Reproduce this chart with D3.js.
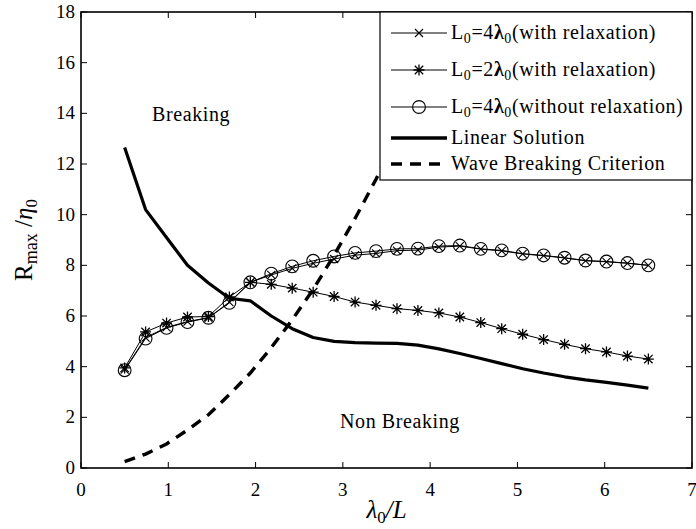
<!DOCTYPE html>
<html><head><meta charset="utf-8">
<script src="https://cdn.jsdelivr.net/npm/d3@7"></script>
<style>body{margin:0;background:#fff}svg{display:block}text{font-family:"Liberation Serif","Times New Roman",serif;fill:#000}</style>
</head><body>
<script>
// ---- data ----
const xGrid = [0.50,0.74,0.98,1.22,1.46,1.70,1.94,2.18,2.42,2.66,2.90,3.14,3.38,3.62,3.86,4.10,4.34,4.58,4.82,5.06,5.30,5.54,5.78,6.02,6.26,6.50];
const relax4 = [3.88,5.15,5.55,5.78,5.93,6.55,7.33,7.62,7.88,8.08,8.25,8.40,8.47,8.58,8.60,8.72,8.76,8.64,8.57,8.45,8.38,8.29,8.18,8.14,8.08,8.00];
const relax2 = [3.95,5.37,5.72,5.96,5.98,6.75,7.33,7.25,7.10,6.94,6.77,6.55,6.42,6.29,6.22,6.12,5.96,5.74,5.50,5.28,5.07,4.88,4.71,4.58,4.42,4.30];
const noRelax4 = [3.86,5.11,5.53,5.76,5.93,6.52,7.33,7.67,7.96,8.18,8.35,8.49,8.56,8.65,8.66,8.76,8.78,8.65,8.59,8.46,8.39,8.30,8.19,8.15,8.09,8.00];
const linearSol = [12.65,10.2,9.1,8.0,7.3,6.7,6.6,6.0,5.5,5.15,5.0,4.95,4.93,4.92,4.85,4.70,4.52,4.32,4.12,3.92,3.75,3.60,3.48,3.38,3.27,3.15];
const breakX = [0.50,0.74,0.98,1.22,1.46,1.70,1.94,2.18,2.42,2.66,2.90,3.14,3.38,3.62,3.86,4.10,4.34];
const breakY = [0.25,0.55,0.95,1.50,2.10,2.90,3.75,4.75,5.85,7.05,8.40,9.85,11.40,13.10,14.90,16.80,18.80];
const xTicks = [0,1,2,3,4,5,6,7];
const yTicks = [0,2,4,6,8,10,12,14,16,18];

const W=696,H=529;
const m={l:81,r:692,t:12,b:468};
const svg=d3.select("body").append("svg").attr("width",W).attr("height",H);
const x=d3.scaleLinear().domain([0,7]).range([m.l,m.r]);
const y=d3.scaleLinear().domain([0,18]).range([m.b,m.t]);

svg.append("clipPath").attr("id","clip").append("rect")
  .attr("x",m.l).attr("y",m.t).attr("width",m.r-m.l).attr("height",m.b-m.t);

const g=svg.append("g").attr("clip-path","url(#clip)");
const line=d3.line().x(d=>x(d[0])).y(d=>y(d[1]));
const zip=(a,b)=>a.map((v,i)=>[v,b[i]]);

// wave breaking criterion (dashed)
g.append("path").attr("d",line(zip(breakX,breakY))).attr("fill","none")
  .attr("stroke","#000").attr("stroke-width",3.4).attr("stroke-dasharray","11,8");
// linear solution
g.append("path").attr("d",line(zip(xGrid,linearSol))).attr("fill","none")
  .attr("stroke","#000").attr("stroke-width",3.2).attr("stroke-linejoin","round");

function drawMarker(sel,type,cx,cy){
  const s=sel.append("g").attr("transform",`translate(${cx},${cy})`)
    .attr("stroke","#000").attr("fill","none").attr("stroke-width",1.1);
  if(type==="x"){const a=4;
    s.append("path").attr("d",`M${-a},${-a}L${a},${a}M${-a},${a}L${a},${-a}`);}
  else if(type==="star"){const a=5.5,b=4.2;
    s.append("path").attr("d",`M0,${-a}L0,${a}M${-a},0L${a},0M${-b},${-b}L${b},${b}M${-b},${b}L${b},${-b}`).attr("stroke-width",1.3);}
  else {s.append("circle").attr("r",6.4);}
}
const series=[
  {vals:relax2,type:"star"},
  {vals:relax4,type:"x"},
  {vals:noRelax4,type:"o"}
];
series.forEach(sr=>{
  const pts=zip(xGrid,sr.vals);
  g.append("path").attr("d",line(pts)).attr("fill","none").attr("stroke","#000").attr("stroke-width",1);
  pts.forEach(p=>drawMarker(g,sr.type,x(p[0]),y(p[1])));
});

// axes box
const ax=svg.append("g");
ax.append("rect").attr("x",m.l).attr("y",m.t).attr("width",m.r-m.l).attr("height",m.b-m.t)
  .attr("fill","none").attr("stroke","#000").attr("stroke-width",1.6);
const tl=6;
xTicks.forEach(t=>{
  ax.append("line").attr("x1",x(t)).attr("x2",x(t)).attr("y1",m.b).attr("y2",m.b-tl).attr("stroke","#000");
  ax.append("line").attr("x1",x(t)).attr("x2",x(t)).attr("y1",m.t).attr("y2",m.t+tl).attr("stroke","#000");
  ax.append("text").attr("x",x(t)).attr("y",m.b+28).attr("text-anchor","middle").attr("font-size",19).text(t);
});
yTicks.forEach(t=>{
  ax.append("line").attr("x1",m.l).attr("x2",m.l+tl).attr("y1",y(t)).attr("y2",y(t)).attr("stroke","#000");
  ax.append("line").attr("x1",m.r).attr("x2",m.r-tl).attr("y1",y(t)).attr("y2",y(t)).attr("stroke","#000");
  ax.append("text").attr("x",m.l-6).attr("y",y(t)+6).attr("text-anchor","end").attr("font-size",19).text(t);
});

// axis labels
const xl=svg.append("text").attr("x",(m.l+m.r)/2).attr("y",518).attr("text-anchor","middle").attr("font-size",25);
xl.append("tspan").attr("font-style","italic").text("λ");
xl.append("tspan").attr("font-size",17).attr("dy",5).text("0");
xl.append("tspan").attr("dy",-5).attr("font-style","italic").text("/L");

const yl=svg.append("text").attr("transform",`translate(32,${(m.t+m.b)/2}) rotate(-90)`)
  .attr("text-anchor","middle").attr("font-size",25);
yl.append("tspan").text("R");
yl.append("tspan").attr("font-size",18).attr("dy",5).text("max");
yl.append("tspan").attr("dy",-5).text(" /");
yl.append("tspan").attr("font-style","italic").text("η");
yl.append("tspan").attr("font-size",17).attr("dy",5).text("0");

// annotations
const annStyle=s=>s.attr("font-size",20).attr("letter-spacing",0.6);
annStyle(svg.append("text").attr("x",152).attr("y",121)).text("Breaking");
annStyle(svg.append("text").attr("x",340).attr("y",428)).text("Non Breaking");

// legend
const lg=svg.append("g");
lg.append("rect").attr("x",380).attr("y",m.t).attr("width",m.r-380).attr("height",180-m.t)
  .attr("fill","#fff").attr("stroke","#000").attr("stroke-width",1.2);
const legendItems=[
  {type:"x",n:"4",rest:"(with relaxation)",yy:33},
  {type:"star",n:"2",rest:"(with relaxation)",yy:70},
  {type:"o",n:"4",rest:"(without relaxation)",yy:107},
  {type:"lin",label:"Linear Solution",yy:138},
  {type:"dash",label:"Wave Breaking Criterion",yy:164}
];
legendItems.forEach(it=>{
  const x1=391,x2=447;
  if(it.type==="lin"||it.type==="dash"){
    lg.append("line").attr("x1",x1).attr("x2",x2).attr("y1",it.yy).attr("y2",it.yy)
      .attr("stroke","#000").attr("stroke-width",3.4).attr("stroke-dasharray",it.type==="dash"?"11,8":null);
    annStyle(lg.append("text").attr("x",451).attr("y",it.yy+6)).text(it.label);
  } else {
    lg.append("line").attr("x1",x1).attr("x2",x2).attr("y1",it.yy).attr("y2",it.yy).attr("stroke","#000").attr("stroke-width",1);
    drawMarker(lg,it.type,(x1+x2)/2,it.yy);
    const t=annStyle(lg.append("text").attr("x",451).attr("y",it.yy+6));
    t.append("tspan").text("L");
    t.append("tspan").attr("font-size",14).attr("dy",4).text("0");
    t.append("tspan").attr("dy",-4).text("="+it.n);
    t.append("tspan").attr("font-weight","bold").text("λ");
    t.append("tspan").attr("font-size",14).attr("dy",4).text("0");
    t.append("tspan").attr("dy",-4).text(it.rest);
  }
});
</script>
</body></html>
